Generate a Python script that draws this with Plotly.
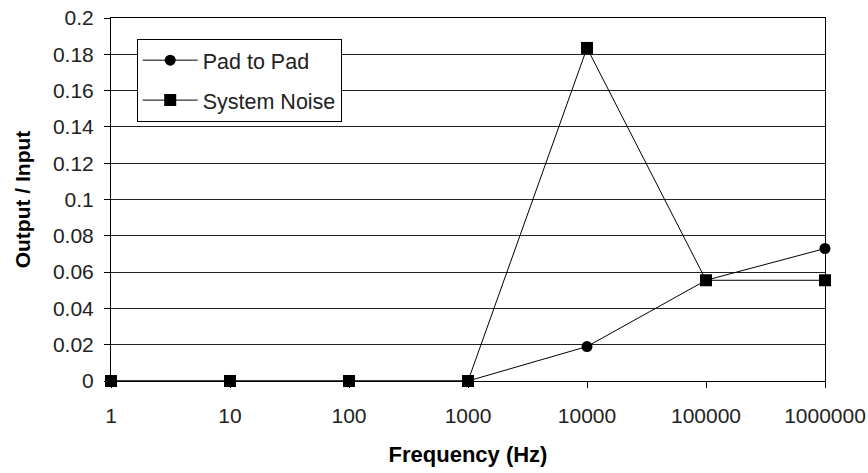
import plotly.graph_objects as go

categories = ["1", "10", "100", "1000", "10000", "100000", "1000000"]
pad_to_pad = [0, 0, 0, 0, 0.019, 0.0555, 0.073]
system_noise = [0, 0, 0, 0, 0.1835, 0.0555, 0.0555]
y_ticks = [0, 0.02, 0.04, 0.06, 0.08, 0.1, 0.12, 0.14, 0.16, 0.18, 0.2]

font = "Liberation Sans, Arial, sans-serif"
xpos = list(range(len(categories)))

fig = go.Figure()
fig.add_trace(go.Scatter(
    x=xpos, y=pad_to_pad, name="Pad to Pad", mode="lines+markers",
    legendgroup="a",
    line=dict(color="black", width=1),
    marker=dict(symbol="circle", size=11, color="black"),
    cliponaxis=False,
))
fig.add_trace(go.Scatter(
    x=xpos, y=system_noise, name="System Noise", mode="lines+markers",
    legendgroup="b",
    line=dict(color="black", width=1),
    marker=dict(symbol="square", size=12, color="black"),
    cliponaxis=False,
))

fig.update_layout(
    width=868, height=473,
    margin=dict(l=111, r=43, t=18, b=92),
    paper_bgcolor="white", plot_bgcolor="white",
    font=dict(family=font, size=21, color="#222222"),
    showlegend=True,
    legend=dict(
        x=0.036, y=0.943, xanchor="left", yanchor="top",
        bgcolor="white", bordercolor="black", borderwidth=1,
        font=dict(family=font, size=21.5, color="#222222"),
        itemwidth=55, traceorder="grouped", tracegroupgap=9,
    ),
    xaxis=dict(
        range=[0, 6], tickmode="array", tickvals=xpos, ticktext=categories,
        showgrid=False, zeroline=False, automargin=False,
        showline=True, linecolor="black", linewidth=1, mirror=True,
        ticks="outside", ticklen=6, tickcolor="black",
        ticklabelstandoff=10,
        title=dict(text="<b>Frequency (Hz)</b>", standoff=20,
                   font=dict(family=font, size=22, color="black")),
    ),
    yaxis=dict(
        range=[0, 0.2], tickmode="array", tickvals=y_ticks,
        ticktext=[("%g" % v) for v in y_ticks],
        showgrid=True, gridcolor="#222222", gridwidth=1,
        zeroline=False, automargin=False,
        showline=True, linecolor="black", linewidth=1, mirror=True,
        ticks="outside", ticklen=6, tickcolor="black",
        ticklabelstandoff=6,
        title=dict(text="<b>Output / Input</b>", standoff=16,
                   font=dict(family=font, size=21, color="black")),
    ),
)

fig.write_html("out.html")
